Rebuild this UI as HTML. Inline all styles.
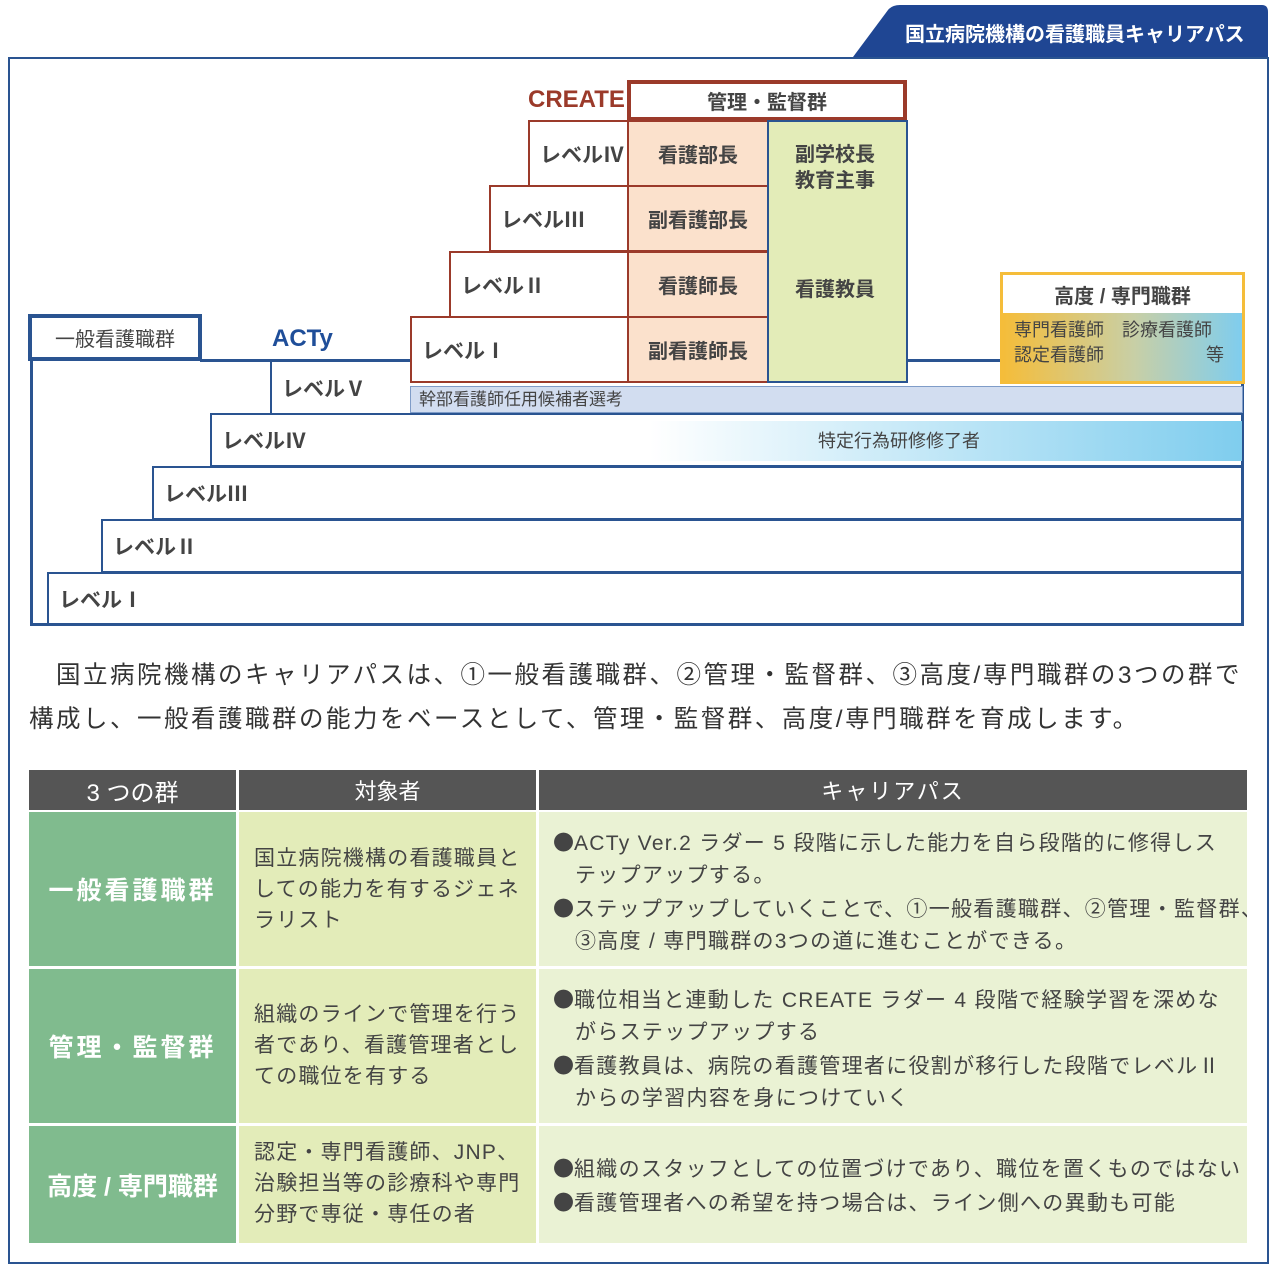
<!DOCTYPE html>
<html><head><meta charset="utf-8"><style>
body{margin:0;width:1275px;height:1270px;background:#fff;position:relative;overflow:hidden;font-family:"Liberation Sans","Noto Sans CJK JP",sans-serif;color:#444}
.a{position:absolute;box-sizing:border-box}
.lv{font-weight:bold;font-size:21px;color:#444;display:flex;align-items:center;padding-left:10px}
.bl{border:2px solid #2a5491}
.rd{border:2px solid #9b3a2a}
.c{display:flex;align-items:center;justify-content:center;text-align:center}
.b{font-family:"Noto Sans CJK JP",sans-serif;letter-spacing:0}
.p{padding-left:22px;text-indent:-22px;margin:0}
.t3{letter-spacing:1.3px}
.t2{letter-spacing:1.2px}
</style></head><body>
<svg class="a" style="left:0;top:0" width="1275" height="60"><path d="M853,57 L888,10 Q892,5 900,5 L1262,5 Q1268,5 1268,12 L1268,57 Z" fill="#1f4693"/></svg>
<div class="a" style="top:18px;left:905px;width:345px;color:#fff;font-size:20px;font-weight:bold">国立病院機構の看護職員キャリアパス</div>
<div class="a" style="left:8px;top:57px;width:1261px;height:1207px;border:2px solid #2a5491"></div>

<div class="a" style="left:30px;top:358px;width:1214px;height:268px;border:3px solid #2a5491;border-top:none"></div>
<div class="a" style="left:200px;top:359px;width:210px;height:3px;background:#2a5491"></div>
<div class="a" style="left:907px;top:359px;width:95px;height:3px;background:#2a5491"></div>
<div class="a c" style="left:28px;top:314px;width:174px;height:47px;border:4px solid #2a5491;background:#fff;font-size:20px;color:#444">一般看護職群</div>
<div class="a" style="left:272px;top:325px;font-size:24px;font-weight:bold;color:#1f4e99">ACTy</div>
<div class="a lv" style="left:270px;top:361px;width:142px;height:53px;border-left:2px solid #2a5491">レベルⅤ</div>
<div class="a" style="left:410px;top:386px;width:833px;height:27px;background:#d2ddf0;border:1px solid #7f9cc8;font-size:17px;padding-left:8px;line-height:25px">幹部看護師任用候補者選考</div>
<div class="a bl lv" style="left:210px;top:413px;width:1034px;height:54px">レベルⅣ</div>
<div class="a" style="left:650px;top:421px;width:592px;height:40px;background:linear-gradient(to right,#fff,#7fcdee);font-size:18px;line-height:40px;padding-left:168px">特定行為研修修了者</div>
<div class="a bl lv" style="left:152px;top:466px;width:1092px;height:54px">レベルⅢ</div>
<div class="a bl lv" style="left:101px;top:519px;width:1143px;height:54px">レベルⅡ</div>
<div class="a bl lv" style="left:47px;top:572px;width:1197px;height:54px">レベルⅠ</div>

<div class="a" style="left:528px;top:86px;font-size:24px;font-weight:bold;color:#9b3a2a">CREATE</div>
<div class="a c" style="left:627px;top:80px;width:280px;height:41px;border:4px solid #9b3a2a;background:#fff;font-size:20px;font-weight:bold">管理・監督群</div>
<div class="a rd lv" style="left:528px;top:120px;width:101px;height:67px;background:#fff">レベルⅣ</div>
<div class="a rd lv" style="left:489px;top:185px;width:140px;height:67px;background:#fff">レベルⅢ</div>
<div class="a rd lv" style="left:449px;top:251px;width:180px;height:67px;background:#fff">レベルⅡ</div>
<div class="a rd lv" style="left:410px;top:316px;width:219px;height:67px;background:#fff">レベルⅠ</div>
<div class="a c rd" style="left:627px;top:120px;width:142px;height:67px;background:#fbe1cc;font-size:20px;font-weight:bold">看護部長</div>
<div class="a c rd" style="left:627px;top:185px;width:142px;height:67px;background:#fbe1cc;font-size:20px;font-weight:bold">副看護部長</div>
<div class="a c rd" style="left:627px;top:251px;width:142px;height:67px;background:#fbe1cc;font-size:20px;font-weight:bold">看護師長</div>
<div class="a c rd" style="left:627px;top:316px;width:142px;height:67px;background:#fbe1cc;font-size:20px;font-weight:bold">副看護師長</div>
<div class="a" style="left:767px;top:120px;width:141px;height:263px;background:#e3ecb8;border:2px solid #2a5491"></div>
<div class="a" style="left:767px;top:142px;width:136px;text-align:center;font-size:20px;font-weight:bold;line-height:26px">副学校長<br>教育主事</div>
<div class="a" style="left:767px;top:273px;width:136px;text-align:center;font-size:20px;font-weight:bold">看護教員</div>

<div class="a" style="left:1000px;top:272px;width:245px;height:112px;border:3px solid #f5bd3a;background:linear-gradient(to right,#f5bd3a,#c8cfa6 55%,#7fcdee)"></div>
<div class="a c" style="left:1003px;top:275px;width:239px;height:38px;background:#fff;font-size:20px;font-weight:bold">高度 / 専門職群</div>
<div class="a" style="left:1014px;top:318px;font-size:18px;line-height:25px;width:210px">専門看護師　診療看護師<br>認定看護師<span style="float:right">等</span></div>

<div class="a" style="left:29px;top:654px;width:1240px;font-size:24.5px;line-height:44px;color:#333;white-space:nowrap;letter-spacing:2.5px">　国立病院機構のキャリアパスは、①一般看護職群、②管理・監督群、③高度/専門職群の3つの群で<br>構成し、一般看護職群の能力をベースとして、管理・監督群、高度/専門職群を育成します。</div>

<div class="a c" style="left:29px;top:770px;width:207px;height:40px;background:#555;color:#fff;font-size:24px">3 つの群</div>
<div class="a c" style="left:239px;top:770px;width:297px;height:40px;background:#555;color:#fff;font-size:22px">対象者</div>
<div class="a c" style="left:539px;top:770px;width:708px;height:40px;background:#555;color:#fff;font-size:22px;letter-spacing:2px">キャリアパス</div>

<div class="a c" style="left:29px;top:812px;width:207px;height:154px;background:#80bb8e;color:#fff;font-size:25px;font-weight:bold;letter-spacing:3px">一般看護職群</div>
<div class="a c" style="left:29px;top:969px;width:207px;height:154px;background:#80bb8e;color:#fff;font-size:25px;font-weight:bold;letter-spacing:3px">管理・監督群</div>
<div class="a c" style="left:29px;top:1126px;width:207px;height:117px;background:#80bb8e;color:#fff;font-size:25px;font-weight:bold">高度 / 専門職群</div>

<div class="a t2" style="left:239px;top:812px;width:297px;height:154px;background:#e3ecb9;padding:31px 0 0 15px;font-size:21px;line-height:31px;white-space:nowrap">国立病院機構の看護職員と<br>しての能力を有するジェネ<br>ラリスト</div>
<div class="a t2" style="left:239px;top:969px;width:297px;height:154px;background:#e3ecb9;padding:30px 0 0 15px;font-size:21px;line-height:31px;white-space:nowrap">組織のラインで管理を行う<br>者であり、看護管理者とし<br>ての職位を有する</div>
<div class="a t2" style="left:239px;top:1126px;width:297px;height:117px;background:#e3ecb9;padding:11px 0 0 15px;font-size:21px;line-height:31px;white-space:nowrap">認定・専門看護師、JNP、<br>治験担当等の診療科や専門<br>分野で専従・専任の者</div>

<div class="a t3" style="left:539px;top:812px;width:708px;height:154px;background:#eaf2d4;padding:14px 0 0 14px;font-size:21px;line-height:32px;white-space:nowrap;overflow:hidden"><p class="p"><span class="b">●</span>ACTy Ver.2 ラダー 5 段階に示した能力を自ら段階的に修得しス<br>テップアップする。</p><p class="p"><span class="b">●</span>ステップアップしていくことで、①一般看護職群、②管理・監督群、<br>③高度 / 専門職群の3つの道に進むことができる。</p></div>
<div class="a t3" style="left:539px;top:969px;width:708px;height:154px;background:#eaf2d4;padding:14px 0 0 14px;font-size:21px;line-height:32px;white-space:nowrap;overflow:hidden"><p class="p"><span class="b">●</span>職位相当と連動した CREATE ラダー 4 段階で経験学習を深めな<br>がらステップアップする</p><p class="p"><span class="b">●</span>看護教員は、病院の看護管理者に役割が移行した段階でレベルⅡ<br>からの学習内容を身につけていく</p></div>
<div class="a t3" style="left:539px;top:1126px;width:708px;height:117px;background:#eaf2d4;padding:26px 0 0 14px;font-size:21px;line-height:32px;white-space:nowrap;overflow:hidden"><p class="p"><span class="b">●</span>組織のスタッフとしての位置づけであり、職位を置くものではない</p><p class="p"><span class="b">●</span>看護管理者への希望を持つ場合は、ライン側への異動も可能</p></div>
</body></html>
